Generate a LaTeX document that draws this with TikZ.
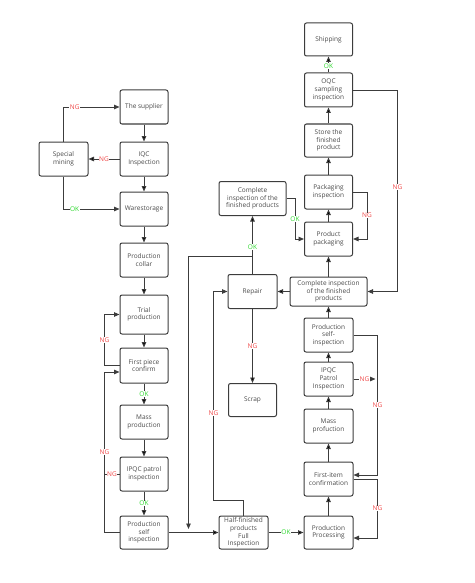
\documentclass[tikz,border=0pt]{standalone}
\usepackage{fontspec}
\setmainfont{Open Sans}
\usetikzlibrary{positioning,arrows.meta}
\definecolor{boxline}{HTML}{3C3C3C}
\definecolor{boxtext}{HTML}{4A4A4A}
\definecolor{ngred}{HTML}{F04848}
\definecolor{okgreen}{HTML}{2ED82E}

\begin{document}
\begin{tikzpicture}[x=1pt,y=-1pt,on grid,>={Triangle[length=5.5pt,width=4.5pt]},
	stage/.style={draw=boxline,line width=1pt,rounded corners=2pt,text=boxtext,align=center,
		font=\fontsize{6.5}{7.6}\selectfont,minimum width=48pt,minimum height=34pt,inner sep=1pt},
	flow/.style={draw=boxline,line width=0.9pt},
	ng/.style={fill=white,text=ngred,font=\fontsize{6.5}{6.5}\selectfont,inner sep=0.6pt},
	ok/.style={fill=white,text=okgreen,font=\fontsize{6.5}{6.5}\selectfont,inner sep=0.6pt}]
	\useasboundingbox (0,0) rectangle (474,583);
	% left column
	\node[stage] (sup) at (144,107) {The supplier};
	\node[stage] (iqc) [below=52pt of sup] {IQC\\Inspection};
	\node[stage] (ware) [below=50pt of iqc] {Warestorage};
	\node[stage] (collar) [below=51pt of ware] {Production\\collar};
	\node[stage,minimum height=39pt] (trial) [below=54.5pt of collar] {Trial\\production};
	\node[stage,minimum height=35pt] (first) [below=51pt of trial] {First piece\\confirm};
	\node[stage] (mass) [below=56.5pt of first] {Mass\\production};
	\node[stage] (ipqc) [below=52pt of mass] {IPQC patrol\\inspection};
	\node[stage,minimum height=33pt] (psi) [below=58.5pt of ipqc] {Production\\self\\inspection};
	\node[stage,minimum width=49pt] (mining) [left=80.5pt of iqc] {Special\\mining};
	% middle
	\node[stage,minimum width=49pt,minimum height=33pt] (half) [right=99.5pt of psi] {Half-finished\\products\\Full\\Inspection};
	% right column
	\node[stage,minimum width=49pt,minimum height=33pt] (pproc) [right=85pt of half] {Production\\Processing};
	\node[stage,minimum width=49pt] (pfirst) [above=53.5pt of pproc] {First-item\\confirmation};
	\node[stage,minimum width=49pt] (pmass) [above=53pt of pfirst] {Mass\\profuction};
	\node[stage,minimum width=49pt] (pipqc) [above=47pt of pmass] {IPQC\\Patrol\\Inspection};
	\node[stage,minimum width=49pt] (pself) [above=44pt of pipqc] {Production\\self-\\inspection};
	\node[stage,minimum width=77pt,minimum height=29pt] (cfpR) [above=43.5pt of pself] {Complete inspection\\of the finished\\products};
	\node[stage] (pack) [above=52.5pt of cfpR] {Product\\packaging};
	\node[stage] (pinsp) [above=47pt of pack] {Packaging\\inspection};
	\node[stage,minimum height=33pt] (store) [above=51.5pt of pinsp] {Store the\\finished\\product};
	\node[stage] (oqc) [above=50.5pt of store] {OQC\\sampling\\inspection};
	\node[stage,minimum height=33pt] (ship) [above=50.5pt of oqc] {Shipping};
	\node[stage,minimum width=49pt] (repair) [left=76pt of cfpR] {Repair};
	\node[stage,minimum height=33pt] (scrap) [below=108.5pt of repair] {Scrap};
	\node[stage,minimum width=67pt] (cfpL) [above=93pt of repair] {Complete\\inspection of the\\finished products};
	\coordinate (drop) at ([xshift=20pt,yshift=3.5pt]psi.east);
	\path[->,flow]
	(sup) edge (iqc)
	(iqc) edge (ware)
	(ware) edge (collar)
	(collar) edge (trial)
	(trial) edge (first)
	(first) edge node[ok] {OK} (mass)
	(mass) edge (ipqc)
	(ipqc) edge node[ok] {OK} (psi)
	(iqc) edge node[ng] {NG} (mining)
	(psi) edge (half)
	(half) edge node[ok] {OK} (pproc)
	(pproc) edge (pfirst)
	(pfirst) edge (pmass)
	(pmass) edge (pipqc)
	(pipqc) edge (pself)
	(pself) edge (cfpR)
	(cfpR) edge (pack)
	(pack) edge (pinsp)
	(pinsp) edge (store)
	(store) edge (oqc)
	(oqc) edge node[ok,pos=0.4] {OK} (ship)
	(cfpR) edge (repair)
	(repair) edge node[ng] {NG} (scrap)
	(repair) edge node[ok,pos=0.47] {OK} (cfpL)
	;
	\draw[->,flow] (mining.north) |- node[ng,pos=0.6] {NG} (sup.west);
	\draw[->,flow] (mining.south) |- node[ok,pos=0.6] {OK} (ware.west);
	\draw[->,flow] (first.west) -| ([xshift=-15pt]trial.west) node[ng,pos=0.75] {NG} -- (trial.west);
	\draw[->,flow] (psi.west) -| ([xshift=-15pt,yshift=-6.5pt]first.west) node[ng,pos=0.75] {NG} -- ([yshift=-6.5pt]first.west);
	\draw[flow] (ipqc.west) -- node[ng] {NG} ([xshift=-15pt]ipqc.west);
	\draw[->,flow] ([yshift=18pt]repair.north) -| (drop);
	\draw[->,flow] (half.north) -- ++(0,-15) -| ([xshift=-14pt]repair.west) node[ng,pos=0.71] {NG} -- (repair.west);
	\draw[->,flow] (pinsp.east) -| ([xshift=14pt]pack.east) node[ng,pos=0.75] {NG} -- (pack.east);
	\draw[->,flow] (cfpL.east) -| ([xshift=-9pt]pack.west) node[ok,pos=0.75] {OK} -- (pack.west);
	\draw[->,flow] (oqc.east) -| ([xshift=30pt]cfpR.east) node[ng,pos=0.74] {NG} -- (cfpR.east);
	\draw[->,flow] (pself.east) -| ([xshift=24pt,yshift=4pt]pfirst.east) node[ng,pos=0.75] {NG} -- ([yshift=4pt]pfirst.east);
	\draw[->,flow] (pipqc.east) -- node[ng] {NG} ([xshift=22pt]pipqc.east);
	\draw[->,flow] (pfirst.east) -| ([xshift=24pt,yshift=-5.5pt]pproc.east) node[ng,pos=0.75] {NG} -- ([yshift=-5.5pt]pproc.east);
\end{tikzpicture}
\end{document}
